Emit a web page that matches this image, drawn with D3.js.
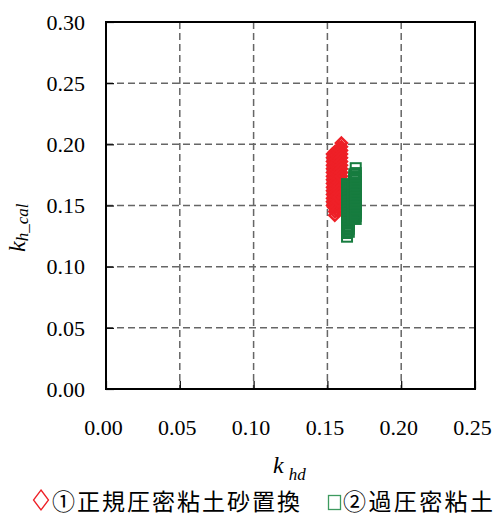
<!DOCTYPE html>
<html>
<head>
<meta charset="utf-8">
<script src="https://cdn.jsdelivr.net/npm/d3@7"></script>
<style>
  body { margin: 0; background: #fff; }
</style>
</head>
<body>
<div class="chart"></div>
<script>
var svgWidth = 496;
var svgHeight = 517;

var plot = { left: 106, right: 475, top: 22, bottom: 389 };
var serif = "'Times New Roman', 'Liberation Serif', Times, serif";

// tick values
var xTicks = [0, 0.05, 0.10, 0.15, 0.20, 0.25];
var yTicks = [0, 0.05, 0.10, 0.15, 0.20, 0.25, 0.30];

// legend labels
var seriesNames = ["①正規圧密粘土砂置換", "②過圧密粘土"];

// ① [k_hd, k_h_cal]
var series1 = [
  [0.1535, 0.192], [0.1535, 0.189], [0.1535, 0.186], [0.1535, 0.183], [0.1535, 0.180],
  [0.1535, 0.177], [0.1535, 0.174], [0.1535, 0.171], [0.1535, 0.168], [0.1535, 0.165],
  [0.1535, 0.162], [0.1535, 0.159], [0.1535, 0.156], [0.1535, 0.153], [0.1535, 0.150],
  [0.1543, 0.1905], [0.1543, 0.1875], [0.1543, 0.1845], [0.1543, 0.1815], [0.1543, 0.1785],
  [0.1543, 0.1755], [0.1543, 0.1725], [0.1543, 0.1695], [0.1543, 0.1665], [0.1543, 0.1635],
  [0.1543, 0.1605], [0.1543, 0.1575], [0.1543, 0.1545], [0.1543, 0.1515], [0.1543, 0.1485],
  [0.1550, 0.194], [0.1550, 0.190], [0.1550, 0.187], [0.1550, 0.184], [0.1550, 0.181],
  [0.1550, 0.178], [0.1550, 0.175], [0.1550, 0.172], [0.1550, 0.169], [0.1550, 0.166],
  [0.1550, 0.163], [0.1550, 0.160], [0.1550, 0.157], [0.1550, 0.154], [0.1550, 0.151],
  [0.1550, 0.148], [0.1550, 0.145], [0.1550, 0.142],
  [0.1565, 0.195], [0.1565, 0.191], [0.1565, 0.188], [0.1565, 0.185], [0.1565, 0.182],
  [0.1565, 0.179], [0.1565, 0.176], [0.1565, 0.173], [0.1565, 0.170], [0.1565, 0.167],
  [0.1565, 0.164], [0.1565, 0.161], [0.1565, 0.158], [0.1565, 0.155], [0.1565, 0.152],
  [0.1565, 0.149], [0.1565, 0.146],
  [0.1573, 0.1935], [0.1573, 0.1895], [0.1573, 0.1865], [0.1573, 0.1835], [0.1573, 0.1805],
  [0.1573, 0.1775], [0.1573, 0.1745], [0.1573, 0.1715], [0.1573, 0.1685], [0.1573, 0.1655],
  [0.1573, 0.1625], [0.1573, 0.1595], [0.1573, 0.1565], [0.1573, 0.1535],
  [0.1580, 0.197], [0.1580, 0.193], [0.1580, 0.190], [0.1580, 0.187], [0.1580, 0.184],
  [0.1580, 0.181], [0.1580, 0.178], [0.1580, 0.175], [0.1580, 0.172], [0.1580, 0.169],
  [0.1580, 0.166], [0.1580, 0.163], [0.1580, 0.160], [0.1580, 0.157],
  [0.1588, 0.1955], [0.1588, 0.1915], [0.1588, 0.1885], [0.1588, 0.1855], [0.1588, 0.1825],
  [0.1588, 0.1795], [0.1588, 0.1765], [0.1588, 0.1735],
  [0.1595, 0.201], [0.1595, 0.198], [0.1595, 0.195], [0.1595, 0.192], [0.1595, 0.189],
  [0.1595, 0.186], [0.1595, 0.183], [0.1595, 0.180], [0.1595, 0.177], [0.1595, 0.174]
];

// ② [k_hd, k_h_cal]
var series2 = [
  [0.1633, 0.1675], [0.1633, 0.165], [0.1633, 0.1625], [0.1633, 0.160], [0.1633, 0.1575],
  [0.1633, 0.155], [0.1633, 0.1525], [0.1633, 0.150], [0.1633, 0.1475], [0.1633, 0.145],
  [0.1633, 0.1425], [0.1633, 0.140], [0.1633, 0.1375], [0.1633, 0.135], [0.1633, 0.1325],
  [0.1633, 0.130], [0.1633, 0.1275], [0.1633, 0.1245],
  [0.1645, 0.166], [0.1645, 0.1635], [0.1645, 0.161], [0.1645, 0.1585], [0.1645, 0.156],
  [0.1645, 0.1535], [0.1645, 0.151], [0.1645, 0.1485], [0.1645, 0.146], [0.1645, 0.1435],
  [0.1645, 0.141], [0.1645, 0.1385], [0.1645, 0.136], [0.1645, 0.1335], [0.1645, 0.131],
  [0.1645, 0.1285],
  [0.1670, 0.167], [0.1670, 0.164], [0.1670, 0.161], [0.1670, 0.158], [0.1670, 0.155],
  [0.1670, 0.152], [0.1670, 0.149], [0.1670, 0.146], [0.1670, 0.143], [0.1670, 0.140],
  [0.1682, 0.1755], [0.1682, 0.173], [0.1682, 0.1705], [0.1682, 0.168], [0.1682, 0.1655],
  [0.1682, 0.163], [0.1682, 0.1605], [0.1682, 0.158], [0.1682, 0.1555], [0.1682, 0.153],
  [0.1682, 0.1505], [0.1682, 0.148], [0.1682, 0.1455], [0.1682, 0.143], [0.1682, 0.1405],
  [0.1692, 0.1805], [0.1692, 0.1765], [0.1692, 0.174], [0.1692, 0.1715], [0.1692, 0.169],
  [0.1692, 0.1665], [0.1692, 0.164], [0.1692, 0.1615], [0.1692, 0.159], [0.1692, 0.1565],
  [0.1692, 0.154], [0.1692, 0.1515], [0.1692, 0.149], [0.1692, 0.1465], [0.1692, 0.144],
  [0.1692, 0.1415], [0.1692, 0.139]
];

var red = "#ee2027";
var green = "#177c3f";

var svg = d3.select(".chart")
  .append("svg")
  .attr("width", svgWidth)
  .attr("height", svgHeight);

var xScale = d3.scaleLinear().domain([0, 0.25]).range([plot.left, plot.right]);
var yScale = d3.scaleLinear().domain([0, 0.30]).range([plot.bottom, plot.top]);

// dashed grid
svg.append("g")
  .selectAll("line")
  .data(xTicks.slice(1, -1))
  .enter()
  .append("line")
  .attr("x1", d => xScale(d)).attr("x2", d => xScale(d))
  .attr("y1", plot.top).attr("y2", plot.bottom)
  .attr("stroke", "#666").attr("stroke-width", 1.5)
  .attr("stroke-dasharray", "7,4");

svg.append("g")
  .selectAll("line")
  .data(yTicks.slice(1, -1))
  .enter()
  .append("line")
  .attr("x1", plot.left).attr("x2", plot.right)
  .attr("y1", d => yScale(d)).attr("y2", d => yScale(d))
  .attr("stroke", "#666").attr("stroke-width", 1.5)
  .attr("stroke-dasharray", "7,4");

// axes with inward ticks
var bottomAxis = d3.axisBottom(xScale)
  .tickValues(xTicks)
  .tickFormat(d3.format(".2f"))
  .tickSize(-8);

var leftAxis = d3.axisLeft(yScale)
  .tickValues(yTicks)
  .tickFormat(d3.format(".2f"))
  .tickSize(-8);

var xAxis = svg.append("g")
  .attr("transform", `translate(0, ${plot.bottom})`)
  .call(bottomAxis);
xAxis.attr("font-family", serif).attr("font-size", 22);
xAxis.select(".domain").remove();
xAxis.selectAll("line").attr("stroke", "#000").attr("stroke-width", 1.2);
xAxis.selectAll("text").attr("y", 46).attr("dy", 0).attr("x", -3);

var yAxis = svg.append("g")
  .attr("transform", `translate(${plot.left}, 0)`)
  .call(leftAxis);
yAxis.attr("font-family", serif).attr("font-size", 22);
yAxis.select(".domain").remove();
yAxis.selectAll("line").attr("stroke", "#000").attr("stroke-width", 1.2);
yAxis.selectAll("text").attr("x", -21).attr("dy", "0.33em");

// frame
svg.append("rect")
  .attr("x", plot.left).attr("y", plot.top)
  .attr("width", plot.right - plot.left)
  .attr("height", plot.bottom - plot.top)
  .attr("fill", "none")
  .attr("stroke", "#000")
  .attr("stroke-width", 2);

// series ① diamonds
var dh = 5.5;
svg.append("g")
  .selectAll("path")
  .data(series1)
  .enter()
  .append("path")
  .attr("d", d => {
    var cx = xScale(d[0]), cy = yScale(d[1]);
    return `M${cx},${cy - dh}L${cx + dh},${cy}L${cx},${cy + dh}L${cx - dh},${cy}Z`;
  })
  .attr("fill", "none")
  .attr("stroke", red)
  .attr("stroke-width", 2.5);

// series ② squares
var sq = 10;
svg.append("g")
  .selectAll("rect")
  .data(series2)
  .enter()
  .append("rect")
  .attr("x", d => xScale(d[0]) - sq / 2)
  .attr("y", d => yScale(d[1]) - sq / 2)
  .attr("width", sq)
  .attr("height", sq)
  .attr("fill", "none")
  .attr("stroke", green)
  .attr("stroke-width", 2);

// axis titles
var xTitle = svg.append("text")
  .attr("x", 273).attr("y", 473)
  .attr("font-family", serif)
  .attr("font-style", "italic");
xTitle.append("tspan").attr("font-size", 24).text("k");
xTitle.append("tspan").attr("font-size", 17).attr("dx", 5).attr("dy", 7).text("hd");

var yTitle = svg.append("text")
  .attr("transform", "translate(25, 252) rotate(-90)")
  .attr("font-family", serif)
  .attr("font-style", "italic");
yTitle.append("tspan").attr("font-size", 24).text("k");
yTitle.append("tspan").attr("font-size", 17).attr("dy", 3).text("h_cal");

// legend
svg.append("path")
  .attr("d", "M41,490L48.5,500L41,510L33.5,500Z")
  .attr("fill", "none")
  .attr("stroke", red)
  .attr("stroke-width", 1.3);

svg.append("text")
  .attr("x", 52).attr("y", 510)
  .attr("font-family", "Noto Sans CJK JP")
  .attr("font-size", 23)
  .attr("textLength", 248)
  .attr("lengthAdjust", "spacing")
  .text(seriesNames[0]);

svg.append("rect")
  .attr("x", 328.5).attr("y", 495.5)
  .attr("width", 12).attr("height", 14)
  .attr("fill", "none")
  .attr("stroke", "#3d9a5f")
  .attr("stroke-width", 1.3);

svg.append("text")
  .attr("x", 343).attr("y", 510)
  .attr("font-family", "Noto Sans CJK JP")
  .attr("font-size", 23)
  .attr("textLength", 150)
  .attr("lengthAdjust", "spacing")
  .text(seriesNames[1]);
</script>
</body>
</html>
